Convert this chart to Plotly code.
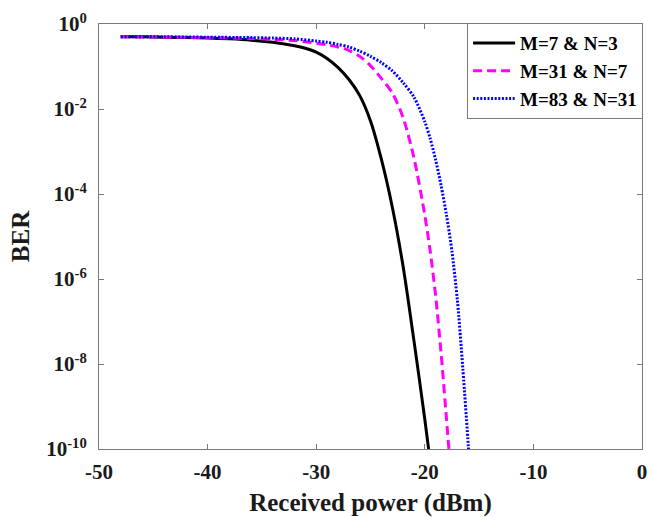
import plotly.graph_objects as go

# Received optical power (dBm) and log10(BER) for each code configuration
power_m7 = [-48, -46, -44, -42, -40, -38, -36, -34, -32, -31, -30, -29, -28,
            -27, -26, -25, -24, -23, -22, -21, -20, -19.6]
logber_m7 = [-0.30, -0.30, -0.31, -0.32, -0.33, -0.35, -0.38, -0.43, -0.51,
             -0.57, -0.66, -0.81, -1.02, -1.30, -1.68, -2.28, -3.18, -4.30,
             -5.70, -7.45, -9.30, -10.10]

power_m31 = [-48, -44, -40, -36, -34, -32, -30, -29, -28, -27, -26, -25, -24,
             -23, -22, -21, -20, -19.5, -19, -18.5, -18, -17.75]
logber_m31 = [-0.30, -0.31, -0.32, -0.34, -0.36, -0.39, -0.45, -0.49, -0.54,
              -0.62, -0.76, -0.98, -1.28, -1.62, -2.20, -3.15, -4.50, -5.35,
              -6.40, -7.75, -9.30, -10.10]

power_m83 = [-48, -44, -40, -36, -34, -32, -30, -29, -28, -27, -26, -25, -24,
             -23, -22, -21, -20, -19.5, -19, -18.5, -18, -17.5, -17, -16.5,
             -16, -15.95]
logber_m83 = [-0.30, -0.30, -0.31, -0.32, -0.33, -0.35, -0.40, -0.43, -0.48,
              -0.54, -0.64, -0.76, -0.91, -1.10, -1.38, -1.72, -2.30, -2.70,
              -3.20, -3.80, -4.50, -5.35, -6.50, -8.10, -9.90, -10.10]

labels = ["M=7 &amp; N=3", "M=31 &amp; N=7", "M=83 &amp; N=31"]

x_ticks = [-50, -40, -30, -20, -10, 0]
y_exponents = [0, -2, -4, -6, -8, -10]

FONT = "Liberation Serif, Times New Roman, serif"
AXIS_COLOR = "#7a7a7a"
TEXT_COLOR = "#1a1a1a"

fig = go.Figure()
series = [
    (power_m7, logber_m7, "#000000", "solid", 3),
    (power_m31, logber_m31, "#ff00ff", "9px,5px", 3),
    (power_m83, logber_m83, "#0000ff", "2px,1.6px", 3),
]
for (xs, ly, color, dash, w), name in zip(series, labels):
    fig.add_trace(go.Scatter(
        x=xs, y=[10 ** v for v in ly], mode="lines", name=name,
        line=dict(color=color, dash=dash, width=w, shape="spline", smoothing=0.8),
    ))

fig.update_layout(
    width=652, height=517,
    margin=dict(l=99, r=5, t=24, b=67),
    plot_bgcolor="white", paper_bgcolor="white",
    font=dict(family=FONT, color=TEXT_COLOR, size=20, weight="bold"),
    legend=dict(
        x=1.002, y=1.002, xanchor="right", yanchor="top",
        bgcolor="white", bordercolor=AXIS_COLOR, borderwidth=1,
        font=dict(family=FONT, size=19, color="#000", weight="bold"),
        tracegroupgap=0, itemwidth=42,
    ),
    showlegend=True,
)

fig.update_xaxes(
    range=[-50, 0], tickvals=x_ticks, ticktext=[str(v) for v in x_ticks],
    showgrid=False, zeroline=False,
    showline=True, linecolor=AXIS_COLOR, linewidth=1, mirror="ticks",
    ticks="inside", ticklen=5, tickcolor=AXIS_COLOR, ticklabelstandoff=4,
    tickfont=dict(family=FONT, size=21, weight="bold", color=TEXT_COLOR),
    title=dict(text="Received power (dBm)", standoff=10,
               font=dict(family=FONT, size=25, weight="bold", color=TEXT_COLOR)),
)
fig.update_yaxes(
    type="log", range=[-10, 0],
    tickvals=[10 ** e for e in y_exponents],
    ticktext=[f"10<sup>{e}</sup>" for e in y_exponents],
    showgrid=False, zeroline=False,
    showline=True, linecolor=AXIS_COLOR, linewidth=1, mirror="ticks",
    ticks="inside", ticklen=5, tickcolor=AXIS_COLOR, ticklabelstandoff=7,
    tickfont=dict(family=FONT, size=21, weight="bold", color=TEXT_COLOR),
    title=dict(text="BER", standoff=9,
               font=dict(family=FONT, size=25, weight="bold", color=TEXT_COLOR)),
)

fig.write_html("out.html")
